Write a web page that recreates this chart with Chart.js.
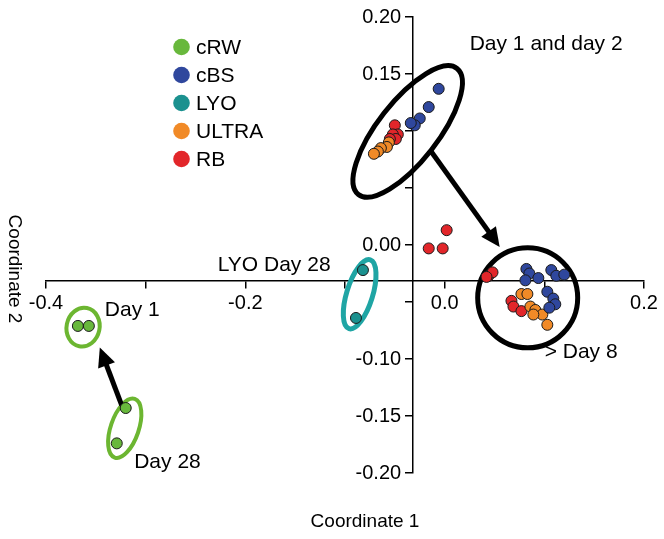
<!DOCTYPE html>
<html><head><meta charset="utf-8">
<script src="https://cdn.jsdelivr.net/npm/chart.js@4.4.1/dist/chart.umd.min.js"></script>
<style>html,body{margin:0;padding:0;background:#fff;}canvas{display:block;}</style>
</head><body>
<canvas id="c" width="664" height="539"></canvas>
<script>
// ---- data ----
const seriesNames = ['cRW', 'cBS', 'LYO', 'ULTRA', 'RB'];
const cRW_x = [-0.368, -0.357, -0.320, -0.329];
const cRW_y = [-0.071, -0.071, -0.143, -0.174];
const cBS_x = [-0.006, -0.016, -0.025, -0.030, -0.034, 0.082, 0.085, 0.081, 0.094, 0.107, 0.112, 0.120, 0.103, 0.109, 0.111, 0.105];
const cBS_y = [0.137, 0.121, 0.111, 0.105, 0.107, -0.021, -0.025, -0.031, -0.029, -0.022, -0.027, -0.026, -0.041, -0.047, -0.052, -0.055];
const LYO_x = [-0.082, -0.089];
const LYO_y = [-0.022, -0.064];
const ULTRA_x = [-0.056, -0.058, -0.064, -0.067, -0.071, 0.077, 0.083, 0.086, 0.091, 0.098, 0.103, 0.089];
const ULTRA_y = [0.090, 0.086, 0.085, 0.082, 0.080, -0.043, -0.043, -0.054, -0.057, -0.061, -0.070, -0.061];
const RB_x = [-0.050, -0.047, -0.052, -0.049, -0.055, 0.002, -0.016, -0.002, 0.044, 0.048, 0.042, 0.067, 0.069, 0.077];
const RB_y = [0.105, 0.097, 0.097, 0.093, 0.093, 0.013, -0.003, -0.003, -0.027, -0.024, -0.028, -0.049, -0.054, -0.058];
const xTickLabels = ['-0.4', '-0.2', '0.0', '0.2'];
const yTickLabels = ['0.20', '0.15', '0.00', '-0.10', '-0.15', '-0.20'];
const xTitle = 'Coordinate 1';
const yTitle = 'Coordinate 2';
const noteTexts = ['Day 1 and day 2', '> Day 8', 'LYO Day 28', 'Day 1', 'Day 28'];

// ---- styling / annotation placement ----
const colors = ['#68b83c', '#2f479d', '#1b918f', '#f18a27', '#e2262a'];
const FONT = "'Liberation Sans', Arial, sans-serif";
const notePos = [[0.0251, 0.1764], [0.1003, -0.0943], [-0.2277, -0.0175], [-0.341, -0.057], [-0.3115, -0.1905]];
const ellipses = [
  {cx: -0.0371, cy: 0.0996, rx: 80, ry: 30, rot: -0.907, lw: 5, color: '#000'},
  {cx: 0.0833, cy: -0.0463, rx: 50, ry: 50, rot: 0, lw: 5, color: '#000'},
  {cx: -0.0853, cy: -0.0432, rx: 13, ry: 36, rot: 0.30, lw: 5, color: '#1fa5a4'},
  {cx: -0.3628, cy: -0.0721, rx: 16.5, ry: 19.5, rot: 0.2, lw: 4, color: '#6cb631'},
  {cx: -0.3210, cy: -0.1607, rx: 14, ry: 31, rot: 0.33, lw: 4, color: '#6cb631'}
];
const arrows = [
  {x1: -0.0150, y1: 0.0838, x2: 0.0552, y2: -0.0017},
  {x1: -0.3240, y1: -0.1406, x2: -0.3460, y2: -0.0900}
];
const PAD = '\u00A0\u00A0';

const xsets = [cRW_x, cBS_x, LYO_x, ULTRA_x, RB_x];
const ysets = [cRW_y, cBS_y, LYO_y, ULTRA_y, RB_y];
const datasets = seriesNames.map((n, i) => ({
  label: n,
  data: xsets[i].map((v, j) => ({x: v, y: ysets[i][j]})),
  backgroundColor: colors[i],
  borderColor: '#1a1a1a',
  borderWidth: 1,
  pointRadius: 5.5,
  pointHoverRadius: 5.5
}));

const annot = {
  id: 'annot',
  beforeDatasetsDraw(chart) {
    const {ctx, scales: {x, y}} = chart;
    ctx.save();
    ellipses.forEach(e => {
      ctx.beginPath();
      ctx.ellipse(x.getPixelForValue(e.cx), y.getPixelForValue(e.cy), e.rx, e.ry, e.rot, 0, Math.PI * 2);
      ctx.lineWidth = e.lw; ctx.strokeStyle = e.color; ctx.stroke();
    });
    arrows.forEach(a => {
      const px1 = x.getPixelForValue(a.x1), py1 = y.getPixelForValue(a.y1);
      const px2 = x.getPixelForValue(a.x2), py2 = y.getPixelForValue(a.y2);
      const ang = Math.atan2(py2 - py1, px2 - px1);
      const hl = 19, hw = 9;
      const bx = px2 - hl * Math.cos(ang), by = py2 - hl * Math.sin(ang);
      ctx.beginPath(); ctx.moveTo(px1, py1); ctx.lineTo(bx + Math.cos(ang) * 2, by + Math.sin(ang) * 2);
      ctx.lineWidth = 5; ctx.strokeStyle = '#000'; ctx.stroke();
      ctx.beginPath();
      ctx.moveTo(px2, py2);
      ctx.lineTo(bx + hw * Math.sin(ang), by - hw * Math.cos(ang));
      ctx.lineTo(bx - hw * Math.sin(ang), by + hw * Math.cos(ang));
      ctx.closePath(); ctx.fillStyle = '#000'; ctx.fill();
    });
    ctx.restore();
  },
  afterDraw(chart) {
    const {ctx, scales: {x, y}} = chart;
    ctx.save();
    ctx.fillStyle = '#000';
    ctx.font = '21px ' + FONT;
    ctx.textBaseline = 'middle'; ctx.textAlign = 'left';
    noteTexts.forEach((t, i) => {
      ctx.fillText(t, x.getPixelForValue(notePos[i][0]), y.getPixelForValue(notePos[i][1]));
    });
    // legend
    chart.data.datasets.forEach((ds, i) => {
      const ly = 47 + i * 28;
      ctx.beginPath(); ctx.arc(181.5, ly, 8.3, 0, Math.PI * 2);
      ctx.fillStyle = ds.backgroundColor; ctx.fill();
      ctx.fillStyle = '#000';
      ctx.fillText(ds.label, 196, ly + 1);
    });
    // axis titles
    ctx.font = '19px ' + FONT;
    ctx.textAlign = 'center';
    ctx.fillText(xTitle, 365, 522);
    ctx.translate(14, 269); ctx.rotate(Math.PI / 2);
    ctx.fillText(yTitle, 0, 0);
    ctx.restore();
  }
};

new Chart(document.getElementById('c'), {
  type: 'scatter',
  data: {datasets},
  options: {
    responsive: false,
    animation: false,
    devicePixelRatio: 1,
    layout: {padding: {left: 46, right: 20, top: 15, bottom: 66}},
    plugins: {legend: {display: false}, tooltip: {enabled: false}},
    scales: {
      x: {
        type: 'linear', min: -0.4, max: 0.2,
        position: {y: -0.0315},
        grid: {drawOnChartArea: false, drawTicks: true, tickLength: 7, color: '#000', lineWidth: 1.5},
        border: {display: true, color: '#000', width: 1.5},
        ticks: {
          stepSize: 0.1, padding: 4, color: '#000', font: {family: FONT, size: 20},
          callback: v => { const s = (Math.abs(v) < 1e-9 ? 0 : v).toFixed(1); return xTickLabels.includes(s) ? s : ''; }
        }
      },
      y: {
        type: 'linear', min: -0.2, max: 0.2,
        position: {x: -0.0325},
        grid: {drawOnChartArea: false, drawTicks: true, tickLength: 7, color: '#000', lineWidth: 1.5},
        border: {display: true, color: '#000', width: 1.5},
        ticks: {
          stepSize: 0.05, padding: 5, color: '#000', font: {family: FONT, size: 20},
          callback: v => { const s = (Math.abs(v) < 1e-9 ? 0 : v).toFixed(2); return yTickLabels.includes(s) ? s + PAD : ''; }
        }
      }
    }
  },
  plugins: [annot]
});
</script>
</body></html>
